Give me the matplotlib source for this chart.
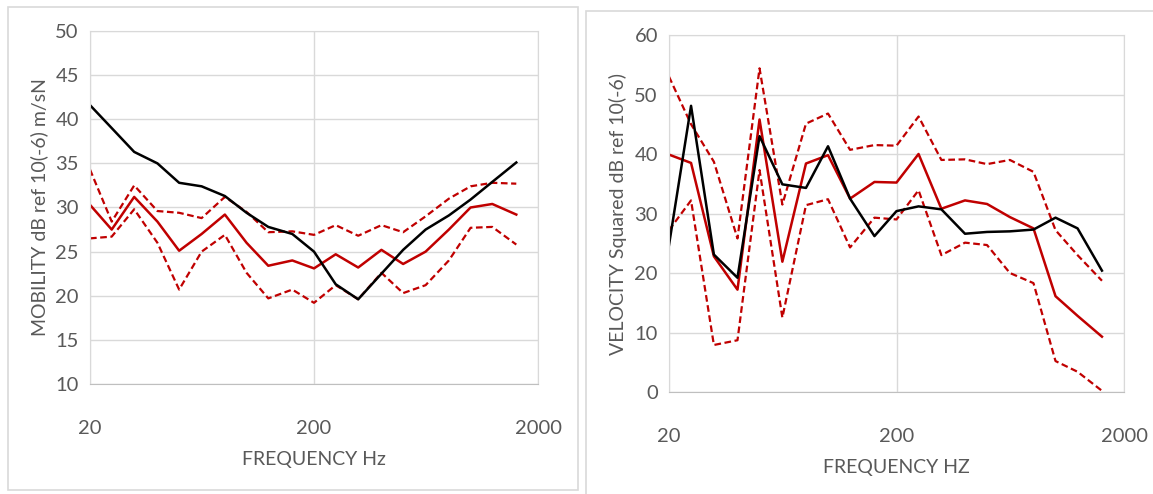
import matplotlib
matplotlib.use('Agg')
import matplotlib.pyplot as plt
from matplotlib.patches import Rectangle
from matplotlib.ticker import FixedLocator, NullLocator

# third-octave band centres
freq = [20, 25, 31.5, 40, 50, 63, 80, 100, 125, 160, 200, 250, 315, 400, 500, 630, 800, 1000, 1250, 1600]

# left panel: mobility
mob_black = [41.6, 39.0, 36.3, 35.0, 32.8, 32.4, 31.3, 29.4, 27.8, 27.0, 25.0, 21.3, 19.6, 22.5, 25.2, 27.5, 29.1, 30.9, 32.9, 35.1]
mob_mean = [30.3, 27.5, 31.2, 28.4, 25.1, 27.0, 29.2, 26.0, 23.4, 24.0, 23.1, 24.7, 23.2, 25.2, 23.6, 25.0, 27.5, 30.0, 30.4, 29.2]
mob_upper = [34.3, 28.4, 32.5, 29.6, 29.4, 28.8, 31.2, 29.5, 27.2, 27.3, 26.9, 28.0, 26.8, 28.0, 27.2, 29.0, 31.0, 32.4, 32.8, 32.7]
mob_lower = [26.5, 26.7, 29.8, 26.0, 20.7, 25.0, 26.9, 22.6, 19.7, 20.7, 19.2, 21.2, 19.6, 22.6, 20.3, 21.2, 24.0, 27.7, 27.8, 25.8]

# right panel: velocity squared
vel_black = [24.7, 48.1, 23.1, 19.2, 43.0, 34.9, 34.3, 41.3, 32.5, 26.2, 30.4, 31.2, 30.7, 26.6, 26.9, 27.0, 27.3, 29.3, 27.5, 20.4]
vel_mean = [39.9, 38.5, 22.8, 17.2, 45.8, 21.9, 38.4, 39.8, 32.5, 35.3, 35.2, 40.0, 30.8, 32.2, 31.6, 29.4, 27.5, 16.1, 12.8, 9.3]
vel_upper = [53.0, 45.0, 38.7, 25.8, 54.4, 31.5, 45.1, 46.8, 40.7, 41.5, 41.4, 46.3, 39.0, 39.1, 38.3, 39.0, 37.0, 27.2, 23.0, 18.7]
vel_lower = [27.2, 32.2, 7.9, 8.7, 37.3, 12.5, 31.4, 32.4, 24.3, 29.3, 29.0, 33.9, 23.0, 25.1, 24.7, 20.0, 18.3, 5.2, 3.4, 0.2]

RED = '#C00000'
GRID = '#D9D9D9'
TXT = '#595959'

plt.rcParams['font.family'] = ['Lato', 'DejaVu Sans']

fig = plt.figure(figsize=(11.53, 4.94), dpi=100)

# panel frames
fig.patches.append(Rectangle((8 / 1153, 1 - 490 / 494), 570 / 1153, 483 / 494,
                             transform=fig.transFigure, fill=False, ec=GRID, lw=1.2))
fig.patches.append(Rectangle((586 / 1153, -0.05), 0.6, 1 - 11 / 494 + 0.05,
                             transform=fig.transFigure, fill=False, ec=GRID, lw=1.2))


def style(ax, ymin, ymax, ystep, ylabel, xlabel):
    ax.set_xscale('log')
    ax.set_xlim(20, 2000)
    ax.set_ylim(ymin, ymax)
    ax.xaxis.set_major_locator(FixedLocator([20, 200, 2000]))
    ax.xaxis.set_minor_locator(NullLocator())
    ax.set_xticklabels(['20', '200', '2000'])
    ax.set_yticks(range(ymin, ymax + 1, ystep))
    ax.grid(True, color=GRID, lw=1.0)
    ax.set_axisbelow(True)
    for s in ax.spines.values():
        s.set_color(GRID)
    ax.spines['bottom'].set_color('#BFBFBF')
    ax.tick_params(length=0, labelsize=14.5, colors=TXT)
    ax.tick_params(axis='x', pad=26)
    ax.tick_params(axis='y', pad=8)
    ax.set_ylabel(ylabel, fontsize=14, color=TXT, labelpad=5)
    ax.set_xlabel(xlabel, fontsize=14, color=TXT, labelpad=10)


def draw(ax, black, mean, upper, lower):
    ax.plot(freq, upper, color=RED, lw=1.6, ls=(0, (3, 1.6)))
    ax.plot(freq, lower, color=RED, lw=1.6, ls=(0, (3, 1.6)))
    ax.plot(freq, mean, color=RED, lw=1.8)
    ax.plot(freq, black, color='black', lw=1.8)


ax1 = fig.add_axes([90 / 1153, 1 - 384 / 494, 448 / 1153, 353 / 494])
draw(ax1, mob_black, mob_mean, mob_upper, mob_lower)
style(ax1, 10, 50, 5, 'MOBILITY dB ref 10(-6) m/sN', 'FREQUENCY Hz')

ax2 = fig.add_axes([669 / 1153, 1 - 392 / 494, 455 / 1153, 357 / 494])
draw(ax2, vel_black, vel_mean, vel_upper, vel_lower)
style(ax2, 0, 60, 10, 'VELOCITY Squared dB ref 10(-6)', 'FREQUENCY HZ')

fig.savefig('out.png', dpi=100)
